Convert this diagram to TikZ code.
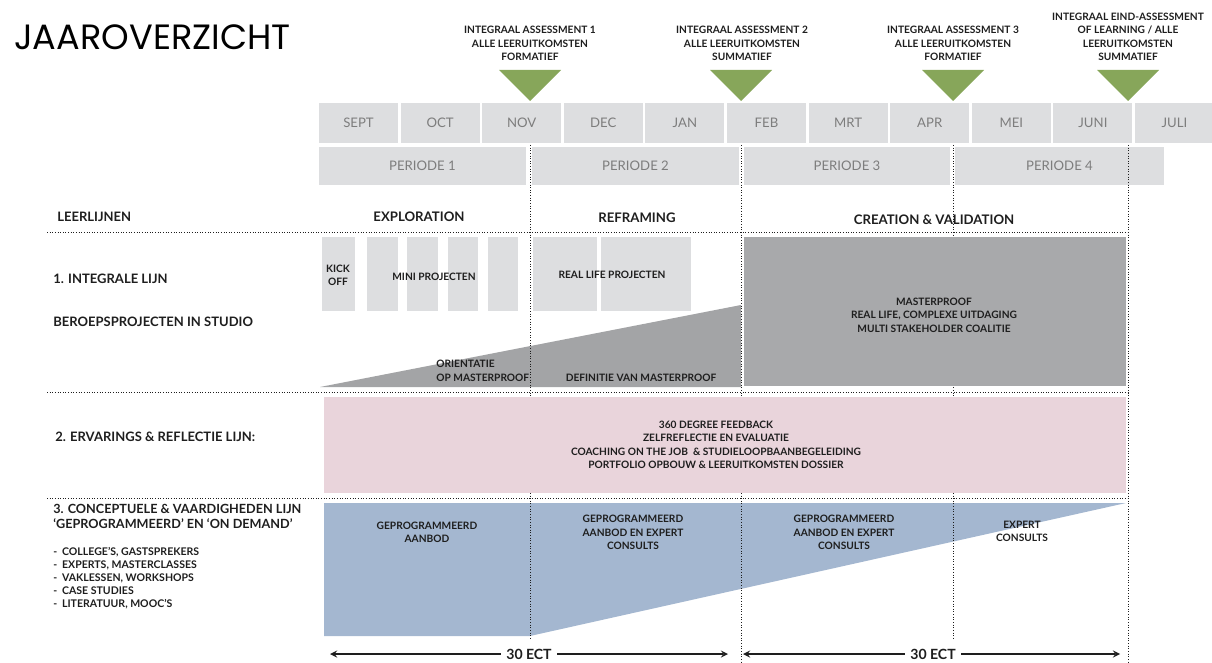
\documentclass[tikz,border=0pt]{standalone}
\usepackage{fontspec}
\setmainfont{Lato}
\newfontfamily\titlefont{Poppins}
\tikzset{>=stealth}

\definecolor{boxgray}{RGB}{221,222,224}
\definecolor{darkbox}{RGB}{168,169,171}
\definecolor{wedgegray}{RGB}{163,164,166}
\definecolor{marker}{RGB}{135,166,90}
\definecolor{reflect}{RGB}{233,212,219}
\definecolor{concept}{RGB}{164,183,208}
\definecolor{labelgray}{RGB}{125,125,125}
\definecolor{ink}{RGB}{30,30,30}

\tikzset{
  month/.style={fill=boxgray, text=labelgray, minimum width=1.58cm, minimum height=0.8cm,
    inner sep=0pt, font=\fontsize{7.5}{9}\selectfont},
  period/.style={fill=boxgray, text=labelgray, minimum height=0.76cm,
    inner sep=0pt, font=\fontsize{7.5}{9}\selectfont},
  small/.style={text=ink, align=center, inner sep=0pt, font=\bfseries\fontsize{5.8}{7.7}\selectfont},
  head/.style={text=ink, anchor=west, align=left, inner sep=0pt, font=\bfseries\fontsize{7.4}{8.5}\selectfont},
  phase/.style={text=ink, inner sep=0pt, font=\bfseries\fontsize{7.5}{9}\selectfont},
  divider/.style={densely dotted, line width=0.5pt, ink},
  ect/.style={text=ink, inner sep=3pt, font=\bfseries\fontsize{8}{9}\selectfont}
}

\begin{document}
\begin{tikzpicture}[x=0.02cm, y=-0.02cm]
\useasboundingbox (0,0) rectangle (1212,662);

\node[anchor=west, inner sep=0pt, font=\titlefont\fontsize{20}{24}\selectfont] (title) at (14,37) {JAAROVERZICHT};

% maanden en periodes
\foreach \m [count=\i from 0] in {SEPT,OCT,NOV,DEC,JAN,FEB,MRT,APR,MEI,JUNI,JULI}
  \node[month] (m\i) at ({358.5+81.6*\i},123) {\m};
\foreach \x/\w/\p in {422.5/207/1, 635.5/207/2, 847/206/3, 1059.5/209/4}
  \node[period, minimum width=\w*0.02cm] (p\p) at (\x,166) {PERIODE \p};

% assessments
\foreach \x in {530, 741, 953, 1128}
  \fill[marker] (\x-31,70) -- (\x+31,70) -- (\x,101) -- cycle;
\node[small] (as1) at (530,43.5) {INTEGRAAL ASSESSMENT 1\\ALLE LEERUITKOMSTEN\\FORMATIEF};
\node[small] (as2) at (742,43.5) {INTEGRAAL ASSESSMENT 2\\ALLE LEERUITKOMSTEN\\SUMMATIEF};
\node[small] (as3) at (953,43.5) {INTEGRAAL ASSESSMENT 3\\ALLE LEERUITKOMSTEN\\FORMATIEF};
\node[small] (as4) at (1128,37) {INTEGRAAL EIND-ASSESSMENT\\OF LEARNING / ALLE\\LEERUITKOMSTEN\\SUMMATIEF};

% vlakken
\fill[concept] (324,503) -- (1126,503) -- (530,636) -- (324,636) -- cycle;
\fill[wedgegray] (320,387) -- (741,305) -- (741,387) -- cycle;
\foreach \a/\b in {322/355, 367/398, 407/438, 448/478, 488/518, 533/597, 601/691}
  \fill[boxgray] (\a,237) rectangle (\b,311);

% lijnen
\foreach \y in {232, 392, 498}
  \draw[divider] (47,\y) -- (1130,\y);
\foreach \x/\e in {530/638, 741/662, 953/638, 1128/662}
  \draw[divider] (\x,145) -- (\x,\e);

\fill[reflect] (324,397) rectangle (1126,493);
\fill[darkbox] (744,237) rectangle (1126,386);

% koppen
\node[head] (leer) at (57,217) {LEERLIJNEN};
\node[phase] (expl) at (419,217) {EXPLORATION};
\node[phase] (refr) at (637,218) {REFRAMING};
\node[phase] (crea) at (934,220) {CREATION \& VALIDATION};
\node[head] (lijn1) at (53,279) {1. INTEGRALE LIJN};
\node[head] (studio) at (53,322) {BEROEPSPROJECTEN IN STUDIO};
\node[head] (lijn2) at (55,437) {2. ERVARINGS \& REFLECTIE LIJN:};
\node[head, font=\bfseries\fontsize{7.2}{8.5}\selectfont] (lijn3) at (53,516.5)
  {3. CONCEPTUELE \& VAARDIGHEDEN LIJN\\`GEPROGRAMMEERD' EN `ON DEMAND'};
\node[head, font=\bfseries\fontsize{6}{7.4}\selectfont] (vormen) at (53,578)
  {\makebox[5pt][l]{-}COLLEGE'S, GASTSPREKERS\\
   \makebox[5pt][l]{-}EXPERTS, MASTERCLASSES\\
   \makebox[5pt][l]{-}VAKLESSEN, WORKSHOPS\\
   \makebox[5pt][l]{-}CASE STUDIES\\
   \makebox[5pt][l]{-}LITERATUUR, MOOC'S};

% inhoud lijn 1
\node[small] (kick) at (338,275.5) {KICK\\OFF};
\node[small] (mini) at (434,277) {MINI PROJECTEN};
\node[small] (real) at (612,275) {REAL LIFE PROJECTEN};
\node[small, align=left, anchor=west] (orient) at (436,371) {ORIENTATIE\\OP MASTERPROOF};
\node[small] (defin) at (641,378) {DEFINITIE VAN MASTERPROOF};
\node[small] (master) at (934,315) {MASTERPROOF\\REAL LIFE, COMPLEXE UITDAGING\\MULTI STAKEHOLDER COALITIE};

% inhoud lijn 2
\node[small] (feedback) at (716,445) {360 DEGREE FEEDBACK\\ZELFREFLECTIE EN EVALUATIE\\
  COACHING ON THE JOB\ \ \& STUDIELOOPBAANBEGELEIDING\\PORTFOLIO OPBOUW \& LEERUITKOMSTEN DOSSIER};

% inhoud lijn 3
\node[small] (aanbod) at (427,532.5) {GEPROGRAMMEERD\\AANBOD};
\node[small] (mix1) at (633,532.5) {GEPROGRAMMEERD\\AANBOD EN EXPERT\\CONSULTS};
\node[small] (mix2) at (844,532.5) {GEPROGRAMMEERD\\AANBOD EN EXPERT\\CONSULTS};
\node[small] (consult) at (1022,531.5) {EXPERT\\CONSULTS};

% studiepunten
\coordinate (s1) at (330,654);
\coordinate (e1) at (728,654);
\coordinate (s2) at (743,654);
\coordinate (e2) at (1120,654);
\node[ect] (ect1) at (529,654) {30 ECT};
\node[ect] (ect2) at (933,654) {30 ECT};
\draw[->, line width=0.8pt, ink] (ect1) -- (s1);
\draw[->, line width=0.8pt, ink] (ect1) -- (e1);
\draw[->, line width=0.8pt, ink] (ect2) -- (s2);
\draw[->, line width=0.8pt, ink] (ect2) -- (e2);
\end{tikzpicture}
\end{document}
